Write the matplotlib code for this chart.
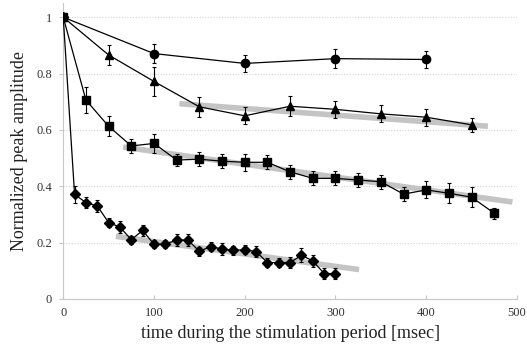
import matplotlib
matplotlib.use("Agg")
from matplotlib import pyplot as plt

# circles
t_circ = [0, 100, 200, 300, 400]
y_circ = [1.0, 0.871, 0.836, 0.853, 0.850]
e_circ = [0.0, 0.035, 0.03, 0.035, 0.03]

# triangles
t_tri = [0, 50, 100, 150, 200, 250, 300, 350, 400, 450]
y_tri = [1.0, 0.866, 0.772, 0.682, 0.650, 0.684, 0.673, 0.657, 0.645, 0.618]
e_tri = [0.0, 0.035, 0.05, 0.035, 0.03, 0.035, 0.03, 0.03, 0.03, 0.025]

# squares
t_sq = [0, 25, 50, 75, 100, 125, 150, 175, 200, 225, 250, 275, 300, 325, 350,
        375, 400, 425, 450, 475]
y_sq = [1.0, 0.706, 0.613, 0.543, 0.552, 0.493, 0.496, 0.489, 0.485, 0.485,
        0.451, 0.428, 0.428, 0.422, 0.416, 0.372, 0.387, 0.375, 0.361, 0.304]
e_sq = [0.0, 0.045, 0.035, 0.025, 0.035, 0.02, 0.025, 0.025, 0.03, 0.025,
        0.025, 0.025, 0.025, 0.025, 0.025, 0.025, 0.03, 0.035, 0.035, 0.02]

# diamonds
t_dia = [0, 12.5, 25, 37.5, 50, 62.5, 75, 87.5, 100, 112.5, 125, 137.5, 150,
         162.5, 175, 187.5, 200, 212.5, 225, 237.5, 250, 262.5, 275, 287.5, 300]
y_dia = [1.0, 0.371, 0.342, 0.330, 0.271, 0.255, 0.210, 0.243, 0.194, 0.194,
         0.209, 0.209, 0.169, 0.186, 0.177, 0.172, 0.175, 0.168, 0.129, 0.129,
         0.129, 0.155, 0.135, 0.090, 0.090]
e_dia = [0.0, 0.03, 0.02, 0.02, 0.015, 0.02, 0.015, 0.02, 0.015, 0.015,
         0.02, 0.02, 0.015, 0.015, 0.02, 0.015, 0.015, 0.02, 0.015, 0.015,
         0.02, 0.025, 0.02, 0.02, 0.02]

# grey trend lines (x range, y range)
trend_tri = ([128, 468], [0.693, 0.613])
trend_sq = ([66, 495], [0.539, 0.344])
trend_dia = ([58, 326], [0.222, 0.104])

y_ticks = [0, 0.2, 0.4, 0.6, 0.8, 1]
y_ticklabels = ["0", "0.2", "0.4", "0.6", "0.8", "1"]
x_ticks = [0, 100, 200, 300, 400, 500]

plt.rcParams["font.family"] = ["Liberation Serif", "DejaVu Serif"]

fig = plt.figure(figsize=(5.27, 3.5), dpi=100)
ax = fig.add_axes([0.12, 0.146, 0.861, 0.845])

for tx, ty in (trend_tri, trend_sq, trend_dia):
    ax.plot(tx, ty, color="#c4c4c4", lw=4, solid_capstyle="butt", zorder=1)

series = [(t_circ, y_circ, e_circ, "o", 6), (t_tri, y_tri, e_tri, "^", 6),
          (t_sq, y_sq, e_sq, "s", 6), (t_dia, y_dia, e_dia, "D", 5.5)]
for t, y, e, m, ms in series:
    ax.errorbar(t, y, yerr=e, fmt="-", marker=m, color="black", ms=ms, lw=0.9,
                elinewidth=0.8, capsize=1.5, capthick=0.8, zorder=3)

ax.set_xlim(0, 500)
ax.set_ylim(0, 1.05)
ax.set_yticks(y_ticks)
ax.set_yticklabels(y_ticklabels)
ax.set_xticks(x_ticks)
ax.yaxis.grid(True, color="#d4d4d4", ls=(0, (1, 1.5)), lw=0.8)
ax.set_axisbelow(True)
for s in ("top", "right"):
    ax.spines[s].set_visible(False)
for s in ("left", "bottom"):
    ax.spines[s].set_color("#c8c8c8")
ax.tick_params(colors="#c8c8c8", labelcolor="#333333", labelsize=9, length=3)
ax.tick_params(axis="y", pad=5)
ax.tick_params(axis="x", direction="in", pad=6)
ax.set_xlabel("time during the stimulation period [msec]", fontsize=13, color="#222222", labelpad=4)
ax.set_ylabel("Normalized peak amplitude", fontsize=13, color="#222222", labelpad=6)

fig.savefig("out.png", dpi=100)
